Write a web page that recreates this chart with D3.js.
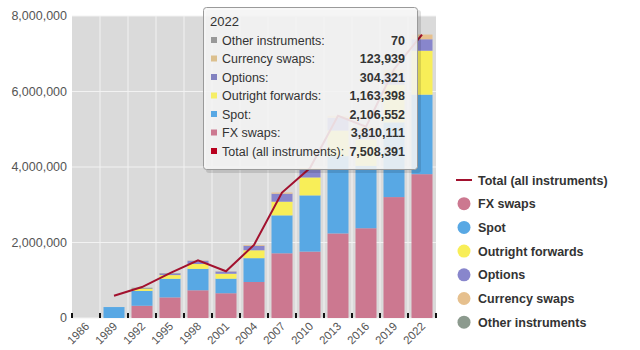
<!DOCTYPE html>
<html lang="en">
<head>
<meta charset="UTF-8">
<title>FX turnover</title>
<script src="https://d3js.org/d3.v7.min.js"></script>
<style>
  body { margin: 0; background: #fff; }
  svg { font-family: "Liberation Sans", Arial, sans-serif; }
</style>
</head>
<body>
<svg id="chart" width="640" height="350"></svg>
<script>
const years = ["1986", "1989", "1992", "1995", "1998", "2001", "2004", "2007", "2010", "2013", "2016", "2019", "2022"];
const fxSwaps   = [0, 0, 324000, 546000, 734000, 656000, 954000, 1714000, 1759000, 2240000, 2378000, 3203000, 3810111];
const spot      = [0, 290000, 394000, 494000, 568000, 386000, 631000, 1005000, 1489000, 2047000, 1652000, 1979000, 2106552];
const forwards  = [0, 0, 58000, 97000, 128000, 130000, 209000, 362000, 475000, 679000, 700000, 999000, 1163398];
const options   = [0, 0, 0, 41000, 87000, 60000, 119000, 212000, 207000, 337000, 254000, 294000, 304321];
const curSwaps  = [0, 0, 0, 4000, 10000, 7000, 21000, 31000, 43000, 54000, 82000, 108000, 123939];
const other     = [0, 0, 25000, 10000, 0, 0, 0, 0, 0, 0, 0, 0, 70];
const total     = [null, 590000, 820000, 1190000, 1527000, 1239000, 1934000, 3324000, 3973000, 5357000, 5066000, 6590000, 7508391];
const yTicks = [0, 2000000, 4000000, 6000000, 8000000];

const seriesNames = ["FX swaps", "Spot", "Outright forwards", "Options", "Currency swaps", "Other instruments"];
const seriesColors = ["#cc7890", "#58a8e4", "#f8ee58", "#8886cc", "#e6c08e", "#8c9a8e"];
const seriesValues = [fxSwaps, spot, forwards, options, curSwaps, other];

const rows = years.map((y, i) => {
  const r = { year: y };
  seriesNames.forEach((n, k) => r[n] = seriesValues[k][i]);
  return r;
});
const stacked = d3.stack().keys(seriesNames)(rows);

const svg = d3.select("#chart");
const plotL = 72, plotR = 436, plotT = 16, plotB = 318;

const x = d3.scaleBand().domain(years).range([plotL, plotR]).paddingInner(0.25).paddingOuter(0.125);
const xb = d3.scaleBand().domain(years).range([plotL, plotR]);
const y = d3.scaleLinear().domain([0, 8000000]).range([plotB, plotT]);

// background + grid
svg.append("rect").attr("x", plotL).attr("y", plotT).attr("width", plotR - plotL).attr("height", plotB - plotT)
  .attr("fill", "#dadada");
svg.append("g").selectAll("line").data(years.slice(1)).join("line")
  .attr("x1", d => xb(d)).attr("x2", d => xb(d))
  .attr("y1", plotT).attr("y2", plotB)
  .attr("stroke", "#f2f2f2").attr("stroke-width", 1);
svg.append("g").selectAll("line").data(yTicks).join("line")
  .attr("x1", plotL).attr("x2", plotR)
  .attr("y1", d => y(d)).attr("y2", d => y(d))
  .attr("stroke", "#f2f2f2").attr("stroke-width", 1);

// bars
svg.append("g").selectAll("g").data(stacked).join("g")
  .attr("fill", (d, i) => seriesColors[i])
  .selectAll("rect").data(d => d).join("rect")
  .attr("x", d => x(d.data.year))
  .attr("width", x.bandwidth())
  .attr("y", d => y(d[1]))
  .attr("height", d => Math.max(0, y(d[0]) - y(d[1])));

// total line
const line = d3.line()
  .defined(d => d != null)
  .x((d, i) => x(years[i]) + x.bandwidth() / 2)
  .y(d => y(d));
svg.append("path").datum(total)
  .attr("d", line)
  .attr("fill", "none").attr("stroke", "#a2112e").attr("stroke-width", 2);

// y axis labels
svg.append("g").selectAll("text").data(yTicks).join("text")
  .attr("x", 67).attr("y", d => y(d) + 4)
  .attr("text-anchor", "end")
  .attr("font-size", 12.5).attr("fill", "#555")
  .text(d => d3.format(",")(d));

// x ticks at band edges
const edges = years.map(d => xb(d)).concat([plotR]);
svg.append("g").selectAll("line").data(edges).join("line")
  .attr("x1", d => d).attr("x2", d => d)
  .attr("y1", plotB - 5).attr("y2", plotB)
  .attr("stroke", "#111").attr("stroke-width", 2);

// x labels
svg.append("g").selectAll("text").data(years).join("text")
  .attr("transform", d => `translate(${xb(d) + xb.bandwidth() / 2 + 4},${plotB + 9}) rotate(-45)`)
  .attr("text-anchor", "end")
  .attr("font-size", 11.5).attr("fill", "#555")
  .text(d => d);

// legend
const legend = svg.append("g").attr("transform", "translate(456,180)");
legend.append("line").attr("x1", 0).attr("x2", 16).attr("y1", 0).attr("y2", 0)
  .attr("stroke", "#a2112e").attr("stroke-width", 2);
legend.append("text").attr("x", 22).attr("y", 4.5)
  .attr("font-size", 12.5).attr("font-weight", "bold").attr("fill", "#333")
  .text("Total (all instruments)");
const li = legend.selectAll("g.item").data(seriesNames).join("g")
  .attr("transform", (d, i) => `translate(0,${(i + 1) * 23.7})`);
li.append("circle").attr("cx", 8).attr("cy", 0).attr("r", 6.5)
  .attr("fill", (d, i) => seriesColors[i]);
li.append("text").attr("x", 22).attr("y", 4.5)
  .attr("font-size", 12.5).attr("font-weight", "bold").attr("fill", "#333")
  .text(d => d);

// tooltip for 2022
const last = years.length - 1;
const tipRows = [
  ["Other instruments", other[last], "#999999"],
  ["Currency swaps", curSwaps[last], "#dcc08e"],
  ["Options", options[last], "#8282c0"],
  ["Outright forwards", forwards[last], "#f6ee66"],
  ["Spot", spot[last], "#58a8e4"],
  ["FX swaps", fxSwaps[last], "#cc7890"],
  ["Total (all instruments)", total[last], "#b8001e"]
];
const tip = svg.append("g").attr("transform", "translate(203,7)");
tip.append("rect").attr("x", 3).attr("y", 3).attr("width", 215).attr("height", 163).attr("rx", 3)
  .attr("fill", "#000").attr("opacity", 0.12);
tip.append("rect").attr("x", 0.5).attr("y", 0.5).attr("width", 214).attr("height", 162).attr("rx", 3)
  .attr("fill", "#f7f7f7").attr("fill-opacity", 0.88).attr("stroke", "#9a9a9a");
tip.append("text").attr("x", 7).attr("y", 19)
  .attr("font-size", 13).attr("fill", "#333").text(years[last]);
const tr = tip.selectAll("g.row").data(tipRows).join("g")
  .attr("transform", (d, i) => `translate(0,${33 + i * 18.5})`);
tr.append("rect").attr("x", 8).attr("y", -3).attr("width", 6).attr("height", 6)
  .attr("fill", d => d[2]);
tr.append("text").attr("x", 19).attr("y", 4.5)
  .attr("font-size", 12.5).attr("fill", "#333").text(d => d[0] + ":");
tr.append("text").attr("x", 202).attr("y", 4.5)
  .attr("text-anchor", "end").attr("font-size", 12.5).attr("font-weight", "bold").attr("fill", "#333")
  .text(d => d3.format(",")(d[1]));
</script>
</body>
</html>
